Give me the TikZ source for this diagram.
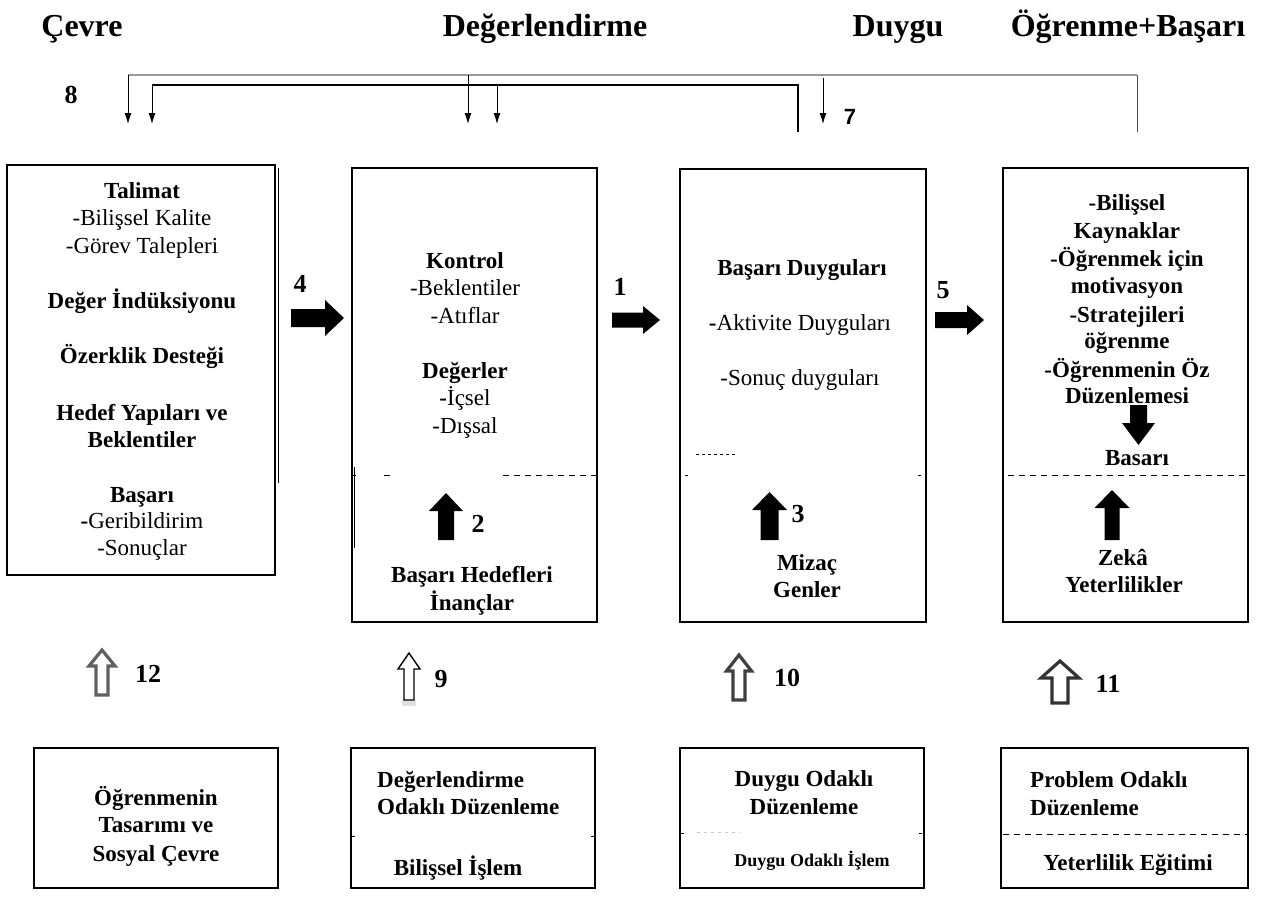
\documentclass[tikz,border=0pt]{standalone}
\usepackage{fontspec}
\setmainfont{Liberation Serif}
\newfontfamily\lsans{Liberation Sans}
\usetikzlibrary{arrows.meta}
% block arrows: [style]{cx}{top}{headbase}{bottom}{head half}{shaft half}
\newcommand{\blkup}[7][fill=black]{\path[#1] ({#2-#6},#4) -- (#2,#3) -- ({#2+#6},#4) -- ({#2+#7},#4) -- ({#2+#7},#5) -- ({#2-#7},#5) -- ({#2-#7},#4) -- cycle;}
\newcommand{\blkdown}[6]{\fill ({#1-#5},#3) -- (#1,#4) -- ({#1+#5},#3) -- ({#1+#6},#3) -- ({#1+#6},#2) -- ({#1-#6},#2) -- ({#1-#6},#3) -- cycle;}
% {cy}{tail}{headbase}{tip}{head half}{shaft half}
\newcommand{\blkright}[6]{\fill (#3,{#1-#5}) -- (#4,#1) -- (#3,{#1+#5}) -- (#3,{#1+#6}) -- (#2,{#1+#6}) -- (#2,{#1-#6}) -- (#3,{#1-#6}) -- cycle;}
\begin{document}
\begin{tikzpicture}[x=1pt,y=-1pt,
  bx/.style={draw, line width=1.6pt, inner sep=0, outer sep=0},
  tx/.style={anchor=base, inner sep=0, font=\fontsize{23}{27}\selectfont},
  tb/.style={anchor=base, inner sep=0, font=\fontsize{23}{27}\selectfont\bfseries},
  ts/.style={anchor=base, inner sep=0, font=\fontsize{18}{22}\selectfont\bfseries},
  nb/.style={anchor=base, inner sep=0, font=\fontsize{26}{30}\selectfont\bfseries},
  hd/.style={anchor=base, inner sep=0, font=\fontsize{32}{36}\selectfont\bfseries},
  fb/.style={line width=1pt, -{Latex[length=11pt,width=7pt]}},
  dsh/.style={line width=1pt, dash pattern=on 6pt off 5pt},
  hol/.style={draw=#1, line width=3.2pt, fill=white, line join=miter}
]
\useasboundingbox (0,0) rectangle (1264,897);
\fill[white] (0,0) rectangle (1264,897);

% headings
\node[hd] (h1) at (82,36) {Çevre};
\node[hd] (h2) at (545,36) {Değerlendirme};
\node[hd] (h3) at (898,36) {Duygu};
\node[hd] (h4) at (1128,36) {Öğrenme+Başarı};

% feedback lines
\node[nb] (n8) at (71,103) {8};
\node[anchor=base, inner sep=0, font=\lsans\fontsize{22}{24}\selectfont\bfseries] (n7) at (850,124) {7};
\coordinate (oR) at (1137,132);
\coordinate (oTR) at (1137,75);
\coordinate (oTL) at (128,75);
\coordinate (oL) at (128,124);
\coordinate (oM) at (468,75);
\coordinate (oMd) at (468,124);
\coordinate (iR) at (798,132);
\coordinate (iTR) at (798,85);
\coordinate (iTL) at (152,85);
\coordinate (iL) at (152,124);
\coordinate (iM) at (497,85);
\coordinate (iMd) at (497,124);
\coordinate (s7) at (823,78);
\coordinate (e7) at (823,124);
\draw[line width=1pt, gray!60!black] (oR) -- (oTR);
\draw[line width=2.5pt, gray!80] (oTR) -- (oTL);
\draw[fb] (oTL) -- (oL);
\draw[fb] (oM) -- (oMd);
\draw[line width=1.3pt] (iR) -- (iTR) -- (iTL);
\draw[fb] (iTL) -- (iL);
\draw[fb] (iM) -- (iMd);
\draw[fb] (s7) -- (e7);

% main boxes
\node[bx, minimum width=268pt, minimum height=410pt] (A) at (141,370) {};
\node[bx, minimum width=245pt, minimum height=454pt] (B) at (474.5,395) {};
\node[bx, minimum width=246pt, minimum height=453pt] (C) at (803,395.5) {};
\node[bx, minimum width=245pt, minimum height=454pt] (D) at (1125.5,395) {};
\draw[line width=1.6pt] (278.5,168) -- (278.5,483);
\draw[line width=1.6pt] (354.5,467) -- (354.5,548);

% box A text
\node[tb] (a1) at (142,198) {Talimat};
\node[tx] (a2) at (142,225) {-Bilişsel Kalite};
\node[tx] (a3) at (142,253) {-Görev Talepleri};
\node[tb] (a4) at (142,308) {Değer İndüksiyonu};
\node[tb] (a5) at (142,363) {Özerklik Desteği};
\node[tb] (a6) at (142,420) {Hedef Yapıları ve};
\node[tb] (a7) at (142,447) {Beklentiler};
\node[tb] (a8) at (142,502) {Başarı};
\node[tx] (a9) at (142,528) {\textbf{-}Geribildirim};
\node[tx] (a10) at (142,555) {-Sonuçlar};

% box B text
\node[tb] (b1) at (465,268) {Kontrol};
\node[tx] (b2) at (465,295) {-Beklentiler};
\node[tx] (b3) at (465,323) {-Atıflar};
\node[tb] (b4) at (465,378) {Değerler};
\node[tx] (b5) at (465,405) {\textbf{-}İçsel};
\node[tx] (b6) at (465,433) {-Dışsal};
\node[tb] (b7) at (472,582) {Başarı Hedefleri};
\node[tb] (b8) at (472,610) {İnançlar};
\draw[dsh] (353,475) -- (356,475);
\draw[dsh] (384,475) -- (392,475);
\draw[dsh] (503,475) -- (597,475);

% box C text
\node[tb] (c1) at (802,275) {Başarı Duyguları};
\node[tx] (c2) at (800,330) {\textbf{-}Aktivite Duyguları};
\node[tx] (c3) at (800,385) {-Sonuç duyguları};
\node[tb] (c4) at (807,570) {Mizaç};
\node[tb] (c5) at (807,597) {Genler};
\draw[line width=0.7pt, dash pattern=on 3pt off 3pt] (696,454) -- (737,454);
\draw[line width=1pt] (685,475) -- (688,475);
\draw[line width=1pt] (918,475) -- (921,475);

% box D text
\node[tb] (d1) at (1127,210) {-Bilişsel};
\node[tb] (d2) at (1127,238) {Kaynaklar};
\node[tb] (d3) at (1127,266) {-Öğrenmek için};
\node[tb] (d4) at (1127,293) {motivasyon};
\node[tb] (d5) at (1127,322) {-Stratejileri};
\node[tb] (d6) at (1127,348) {öğrenme};
\node[tb] (d7) at (1127,377) {-Öğrenmenin Öz};
\node[tb] (d8) at (1127,403) {Düzenlemesi};
\node[tb] (d9) at (1137,465) {Basarı};
\node[tb] (d10) at (1123,565) {Zekâ};
\node[tb] (d11) at (1124,592) {Yeterlilikler};
\draw[dsh] (1008,475) -- (1246,475);

% block arrows between boxes
\blkright{318}{291}{325}{344}{18}{9}
\blkright{320}{612}{643}{660}{14}{7.5}
\blkright{320}{935}{967}{984}{15}{8}
\node[nb] (l4) at (300,292) {4};
\node[nb] (l1) at (620,295) {1};
\node[nb] (l5) at (943,298) {5};
% block arrows inside boxes
\blkup{446}{493}{511}{540}{17}{8}
\blkup{769.5}{492}{510}{540}{17.5}{9}
\blkup{1112}{490}{508}{540}{17.5}{7.5}
\blkdown{1138.5}{405}{423}{445}{16.5}{8.5}
\node[nb] (l2) at (478,532) {2};
\node[nb] (l3) at (798,522) {3};

% hollow arrows
\blkup[hol=gray!75!black]{102}{650}{666}{695}{13}{6}
\fill[gray!25] (402,700) rectangle (416,706);
\blkup[draw=black, line width=1.4pt, fill=white]{409}{653}{669}{700}{11}{5}
\blkup[hol=black!75]{739}{655}{671}{700}{12.5}{6}
\blkup[hol=black!80]{1060}{661}{678}{703}{19}{8}
\node[nb] (l12) at (148,682) {12};
\node[nb] (l9) at (441,687) {9};
\node[nb] (l10) at (787,686) {10};
\node[nb] (l11) at (1108,692) {11};

% bottom boxes
\node[bx, minimum width=244pt, minimum height=140pt] (E) at (156,818) {};
\node[bx, minimum width=244pt, minimum height=140pt] (F) at (473,818) {};
\node[bx, minimum width=244pt, minimum height=140pt] (G) at (802,818) {};
\node[bx, minimum width=247pt, minimum height=140pt] (H) at (1124.5,818) {};

\node[tb] (e1) at (156,805) {Öğrenmenin};
\node[tb] (e2) at (156,832) {Tasarımı ve};
\node[tb] (e3) at (156,861) {Sosyal Çevre};

\node[tb, anchor=base west] (f1) at (377,787) {Değerlendirme};
\node[tb, anchor=base west] (f2) at (377,814) {Odaklı Düzenleme};
\node[tb] (f3) at (458,875) {Bilişsel İşlem};
\draw[line width=1pt] (352,836) -- (355,836);
\draw[line width=1pt] (591,836) -- (594,836);

\node[tb] (g1) at (804,786) {Duygu Odaklı};
\node[tb] (g2) at (804,814) {Düzenleme};
\node[ts] (g3) at (812,866) {Duygu Odaklı İşlem};
\draw[line width=1pt] (681,833) -- (684,833);
\draw[line width=1pt] (919,833) -- (922,833);
\draw[line width=0.6pt, gray!40, dash pattern=on 3pt off 4pt] (697,832) -- (740,832);

\node[tb, anchor=base west] (k1) at (1030,787) {Problem Odaklı};
\node[tb, anchor=base west] (k2) at (1030,815) {Düzenleme};
\node[tb] (k3) at (1128,870) {Yeterlilik Eğitimi};
\draw[dsh] (1003,834) -- (1247,834);
\end{tikzpicture}
\end{document}
